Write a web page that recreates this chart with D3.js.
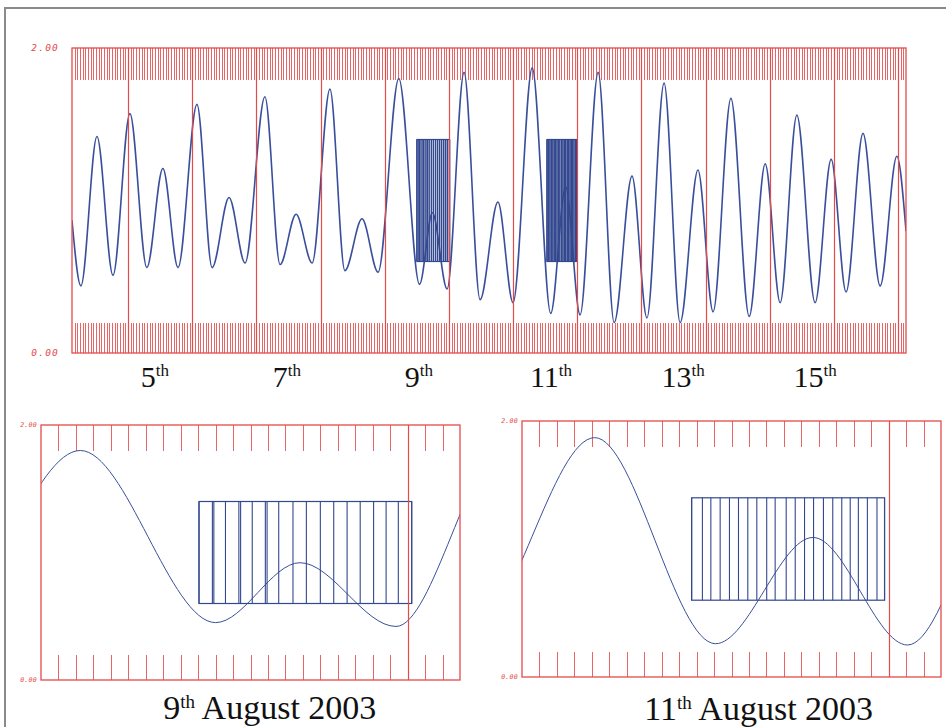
<!DOCTYPE html>
<html>
<head>
<meta charset="utf-8">
<script src="https://cdnjs.cloudflare.com/ajax/libs/d3/7.8.5/d3.min.js"></script>
<style>
  body { margin: 0; background: #fff; }
</style>
</head>
<body>
<script>
// high / low water (Aug 2003), heights in m
const tideTimes = [
  "08-04 03:00", "08-04 06:20", "08-04 12:20", "08-04 18:20",
  "08-05 00:40", "08-05 07:00", "08-05 13:00", "08-05 18:40",
  "08-06 01:45", "08-06 07:25", "08-06 13:45", "08-06 19:45",
  "08-07 03:10", "08-07 08:50", "08-07 14:50", "08-07 20:50",
  "08-08 03:30", "08-08 09:05", "08-08 15:30", "08-08 21:30",
  "08-09 05:15", "08-09 13:00", "08-09 17:50", "08-09 23:20",
  "08-10 05:40", "08-10 11:40", "08-10 18:20", "08-11 00:00",
  "08-11 07:10", "08-11 14:05", "08-11 19:40", "08-12 01:05",
  "08-12 07:50", "08-12 13:50", "08-12 20:30", "08-13 02:05",
  "08-13 08:30", "08-13 14:30", "08-13 21:10", "08-14 02:50",
  "08-14 09:30", "08-14 16:20", "08-14 22:20", "08-15 03:55",
  "08-15 10:10", "08-15 17:00", "08-15 23:00", "08-16 04:35",
  "08-16 10:55", "08-16 17:20", "08-16 23:35", "08-17 03:00"
];
const tideHeights = [
  0.87, 0.44, 1.42, 0.51,
  1.57, 0.56, 1.21, 0.56,
  1.63, 0.56, 1.02, 0.59,
  1.68, 0.58, 0.91, 0.59,
  1.73, 0.54, 0.88, 0.53,
  1.80, 0.45, 0.92, 0.42,
  1.84, 0.35, 0.99, 0.33,
  1.87, 0.26, 1.09, 0.25,
  1.84, 0.20, 1.16, 0.23,
  1.77, 0.20, 1.20, 0.27,
  1.67, 0.24, 1.24, 0.33,
  1.56, 0.33, 1.27, 0.40,
  1.44, 0.44, 1.29, 0.80
];

// survey times (vertical lines inside the blue boxes)
const obs9 = [
  "08-09 12:03", "08-09 12:49", "08-09 12:54", "08-09 13:34", "08-09 14:20",
  "08-09 14:26", "08-09 15:06", "08-09 15:51", "08-09 15:57", "08-09 16:37",
  "08-09 17:26", "08-09 18:12", "08-09 19:00", "08-09 19:46", "08-09 20:32",
  "08-09 21:17", "08-09 22:03", "08-09 22:46", "08-09 23:28", "08-10 00:14"
];
const obs11 = [
  "08-11 12:43", "08-11 13:20", "08-11 13:49", "08-11 14:21", "08-11 14:53",
  "08-11 15:24", "08-11 15:56", "08-11 16:27", "08-11 17:01", "08-11 17:30",
  "08-11 18:08", "08-11 18:39", "08-11 19:11", "08-11 19:42", "08-11 20:16",
  "08-11 20:48", "08-11 21:19", "08-11 21:48", "08-11 22:16", "08-11 22:47",
  "08-11 23:20", "08-11 23:46"
];
const boxRange = [0.6, 1.4];
const yLabels = ["0.00", "2.00"];
const dayLabels = [5, 7, 9, 11, 13, 15];

const parse = d3.timeParse("%Y-%m-%d %H:%M");
const t = s => parse("2003-" + s);
const tide = tideTimes.map((s, i) => ({ t: t(s), h: tideHeights[i] }));
const surveys = [obs9.map(t), obs11.map(t)];

const RED = "#e54a4a", BLUE = "#3a4f9c", BOXBLUE = "#33488f";

const svg = d3.select("body").append("svg")
  .attr("width", 946).attr("height", 727);

svg.append("rect").attr("width", 946).attr("height", 727).attr("fill", "#fff");
// grey outer frame
svg.append("path").attr("d", "M5,727V8H946")
  .attr("fill", "none").attr("stroke", "#8a8a8a").attr("stroke-width", 2);

let clipId = 0;
function panel(o) {
  const x = d3.scaleTime().domain([t(o.start), t(o.end)]).range([o.left, o.right]);
  const y = d3.scaleLinear().domain([0, 2]).range([o.bottom, o.top]);
  const g = svg.append("g");
  const id = "clip" + (clipId++);
  g.append("clipPath").attr("id", id).append("rect")
    .attr("x", o.left).attr("y", o.top)
    .attr("width", o.right - o.left).attr("height", o.bottom - o.top);

  // hourly ticks along top and bottom
  const hours = d3.timeHour.range(d3.timeHour.offset(x.domain()[0], 1), x.domain()[1]);
  g.append("g").selectAll("line").data(hours).join("line")
    .attr("x1", d => Math.round(x(d)) + 0.5).attr("x2", d => Math.round(x(d)) + 0.5)
    .attr("y1", o.top).attr("y2", o.top + o.tickTop)
    .attr("stroke", RED).attr("stroke-opacity", 0.85);
  g.append("g").selectAll("line").data(hours).join("line")
    .attr("x1", d => Math.round(x(d)) + 0.5).attr("x2", d => Math.round(x(d)) + 0.5)
    .attr("y1", o.bottom - o.tickBottom).attr("y2", o.bottom)
    .attr("stroke", RED).attr("stroke-opacity", 0.85);

  // tide curve
  const line = d3.line().x(d => x(d.t)).y(d => y(d.h)).curve(d3.curveMonotoneX);
  g.append("path").datum(tide)
    .attr("clip-path", `url(#${id})`)
    .attr("d", line)
    .attr("fill", "none").attr("stroke", BLUE).attr("stroke-width", o.curveWidth);

  // survey boxes
  surveys.forEach(obs => {
    const bg = g.append("g").attr("clip-path", `url(#${id})`);
    bg.append("rect")
      .attr("x", x(obs[0])).attr("y", y(boxRange[1]))
      .attr("width", x(obs[obs.length - 1]) - x(obs[0]))
      .attr("height", y(boxRange[0]) - y(boxRange[1]))
      .attr("fill", "none").attr("stroke", BOXBLUE).attr("stroke-width", 1.2);
    bg.selectAll("line").data(obs).join("line")
      .attr("x1", d => x(d)).attr("x2", d => x(d))
      .attr("y1", y(boxRange[1])).attr("y2", y(boxRange[0]))
      .attr("stroke", BOXBLUE).attr("stroke-width", o.obsWidth);
  });

  // day boundaries
  const days = d3.timeDay.range(x.domain()[0], x.domain()[1]).filter(d => +d > +x.domain()[0]);
  g.append("g").selectAll("line").data(days).join("line")
    .attr("x1", d => Math.round(x(d)) + 0.5).attr("x2", d => Math.round(x(d)) + 0.5)
    .attr("y1", o.top).attr("y2", o.bottom)
    .attr("stroke", RED).attr("stroke-width", 1.2);

  // frame
  g.append("rect")
    .attr("x", o.left).attr("y", o.top)
    .attr("width", o.right - o.left).attr("height", o.bottom - o.top)
    .attr("fill", "none").attr("stroke", RED).attr("stroke-width", 1.3);

  // y labels
  g.selectAll("text.yl").data(yLabels).join("text").attr("class", "yl")
    .attr("x", o.left - o.labelGap).attr("y", d => y(+d))
    .attr("dy", "0.35em").attr("text-anchor", "end")
    .attr("font-family", "DejaVu Sans Mono").attr("font-style", "italic")
    .attr("font-size", o.yFont).attr("letter-spacing", o.yFont > 8 ? 1.2 : 0.3)
    .attr("fill", RED).text(d => d);

  return { x, y, g };
}

// overview panel
const overview = panel({
  start: "08-04 03:00", end: "08-17 03:00",
  left: 72, right: 906, top: 48, bottom: 353,
  tickTop: 32, tickBottom: 30, curveWidth: 1.6, obsWidth: 1.5, labelGap: 13, yFont: 9.5
});
const labelX = d3.scaleLinear().domain([5, 15])
  .range([overview.x(t("08-05 10:00")), overview.x(t("08-15 17:00"))]);
dayLabels.forEach(d => {
  const txt = svg.append("text")
    .attr("x", labelX(d)).attr("y", 387)
    .attr("text-anchor", "middle")
    .attr("font-family", "Liberation Serif").attr("font-size", 30).attr("fill", "#111");
  txt.append("tspan").text(d);
  txt.append("tspan").attr("font-size", 17).attr("dy", -11).text("th");
});

// two day detail panels
const details = [
  { start: "08-09 03:00", end: "08-10 03:00", left: 41, right: 460, top: 425, bottom: 680,
    day: "9", base: 719 },
  { start: "08-11 03:00", end: "08-12 03:00", left: 522, right: 941, top: 421, bottom: 677,
    day: "11", base: 720 }
];
details.forEach(p => {
  const pn = panel(Object.assign({ tickTop: 26, tickBottom: 25, curveWidth: 1, obsWidth: 1.1, labelGap: 4, yFont: 6.5 }, p));
  const txt = svg.append("text")
    .attr("x", pn.x(d3.timeHour.offset(t(p.start), 7))).attr("y", p.base)
    .attr("font-family", "Liberation Serif").attr("font-size", 34).attr("fill", "#111");
  txt.append("tspan").text(p.day);
  txt.append("tspan").attr("font-size", 19).attr("dy", -11).text("th");
  txt.append("tspan").attr("dy", 11).text(" August 2003");
});
</script>
</body>
</html>
